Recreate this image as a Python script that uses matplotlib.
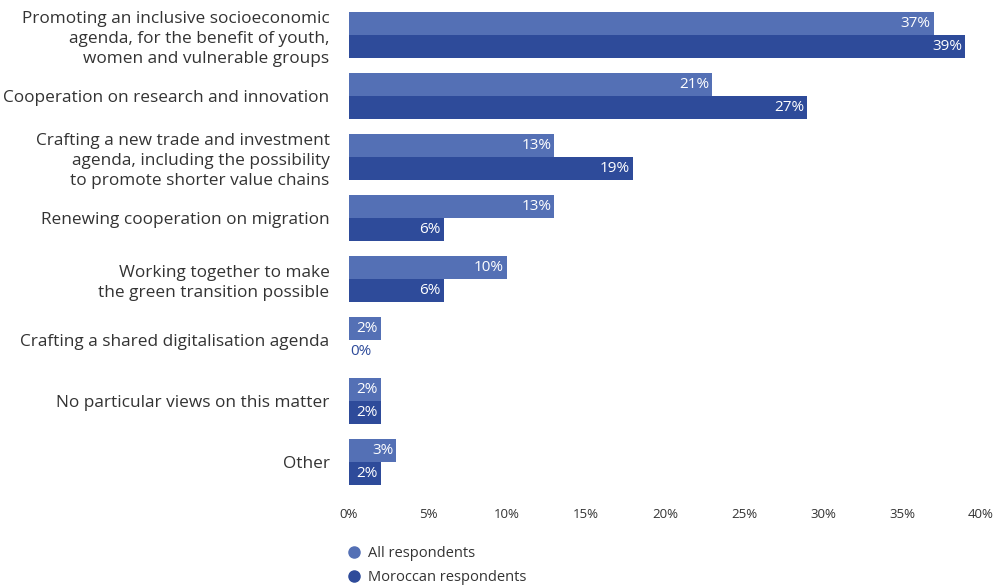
import numpy as np
import matplotlib.pyplot as plt
from matplotlib.lines import Line2D

plt.rcParams['font.family'] = ['Open Sans', 'DejaVu Sans']

categories = [
    "Promoting an inclusive socioeconomic\nagenda, for the benefit of youth,\nwomen and vulnerable groups",
    "Cooperation on research and innovation",
    "Crafting a new trade and investment\nagenda, including the possibility\nto promote shorter value chains",
    "Renewing cooperation on migration",
    "Working together to make\nthe green transition possible",
    "Crafting a shared digitalisation agenda",
    "No particular views on this matter",
    "Other",
]
# bar lengths as drawn, and the labels printed on them
all_values = [37, 23, 13, 13, 10, 2, 2, 3]
all_labels = ["37%", "21%", "13%", "13%", "10%", "2%", "2%", "3%"]
mor_values = [39, 29, 18, 6, 6, 0, 2, 2]
mor_labels = ["39%", "27%", "19%", "6%", "6%", "0%", "2%", "2%"]
xticks = [0, 5, 10, 15, 20, 25, 30, 35, 40]

c_all = '#5470b5'
c_mor = '#2e4b9a'
txt = '#333333'

fig = plt.figure(figsize=(9.98, 5.88), dpi=100)
ax = fig.add_axes([0.3497, 1 - 500 / 588, 0.9830 - 0.3497, 500 / 588])

y = np.arange(len(categories))
h = 0.375
ax.barh(y - h / 2, all_values, height=h, color=c_all)
ax.barh(y + h / 2, mor_values, height=h, color=c_mor)

for i in range(len(categories)):
    for v, lab, off in ((all_values[i], all_labels[i], -h / 2), (mor_values[i], mor_labels[i], h / 2)):
        if v > 0:
            ax.text(v - 0.2, i + off, lab, ha='right', va='center', color='white', fontsize=11)
        else:
            ax.text(0.05, i + off, lab, ha='left', va='center', color=c_mor, fontsize=11)

ax.set_xlim(0, 40)
ax.set_ylim(7.62, -0.574)
ax.set_xticks(xticks)
ax.set_xticklabels([f"{t}%" for t in xticks], fontsize=9.5, color=txt)
ax.set_yticks(y)
ax.set_yticklabels(categories, fontsize=12.4, color=txt, linespacing=1.32)
ax.tick_params(axis='both', length=0)
ax.tick_params(axis='x', pad=6)
ax.tick_params(axis='y', pad=14)
for s in ax.spines.values():
    s.set_visible(False)

handles = [Line2D([], [], marker='o', ls='', color=c_all, markersize=8),
           Line2D([], [], marker='o', ls='', color=c_mor, markersize=8)]
fig.legend(handles, ["All respondents", "Moroccan respondents"], loc='upper left',
           bbox_to_anchor=(0.347, 1 - 546 / 588), frameon=False, fontsize=10.5,
           handletextpad=0.5, labelspacing=0.6, handlelength=1.0,
           labelcolor=txt, borderaxespad=0, borderpad=0)

fig.savefig('out.png', dpi=100)
